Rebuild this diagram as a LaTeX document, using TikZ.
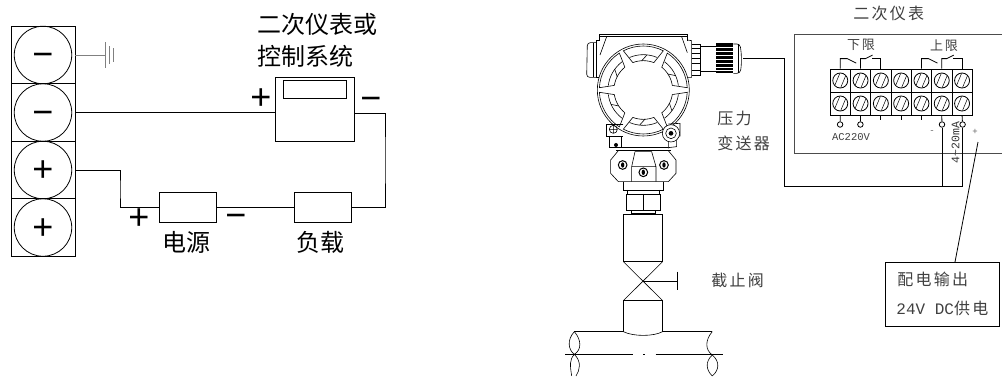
\documentclass[tikz,border=0pt]{standalone}
\usepackage{fontspec}
\usepackage{tikz}
\usetikzlibrary{arrows.meta,positioning}
\newfontfamily\cjkbold{Noto Sans CJK SC}
\newfontfamily\cjkthin[LetterSpace=14]{Noto Sans CJK SC}
\newfontfamily\signfont{Liberation Sans}
\newfontfamily\monofont{Liberation Mono}
\begin{document}
\begin{tikzpicture}[x=1pt,y=-1pt,
    line width=0.8pt,
    slotbox/.style={draw,minimum width=63.5pt,minimum height=57.5pt,inner sep=0pt},
    slotring/.style={draw,circle,minimum size=57.5pt,inner sep=0pt},
    partbox/.style={draw,minimum width=57pt,minimum height=30pt,inner sep=0pt},
    bigsign/.style={inner sep=0pt,font=\signfont\fontsize{36}{36}\selectfont},
    bigtext/.style={inner sep=0pt,anchor=west,font=\cjkbold\fontsize{24}{24}\selectfont},
    thintext/.style={inner sep=0pt,anchor=west,text=black!75,font=\cjkthin\fontsize{16}{16}\selectfont},
    blockcell/.style={draw,minimum width=20.3pt,minimum height=23pt,inner sep=0pt},
    termscrew/.style={draw,circle,minimum size=15pt,inner sep=0pt},
    termpin/.style={draw,circle,minimum size=5.5pt,inner sep=0pt,fill=white}]
\useasboundingbox (0,0) rectangle (1002,376);
% Terminal block
\foreach \n/\y/\s/\d in {1/55/−/5,2/112.5/−/5,3/170/+/1.5,4/227.5/+/1.5} {
    \node[slotbox] (slot\n) at (43.3,\y) {};
    \node[slotring] (ring\n) at (43,\y) {};
    \node[bigsign] (sign\n) at (43,\y+\d) {\s};
}
% Earth
\coordinate (earth) at (105,55);
\draw[gray] (slot1.east) -- (earth);
\draw[gray] (105,42) -- (105,68) (109,46) -- (109,64) (113,48) -- (113,62);
% Left circuit
\node[draw,minimum width=79pt,minimum height=64pt,inner sep=0pt] (meter) at (314.5,109) {};
\node[draw,minimum width=63pt,minimum height=18pt,inner sep=0pt] (screen) at (314.5,89.5) {};
\node[partbox] (source) at (187.5,207) {};
\node[partbox] (load) at (322.5,207) {};
\coordinate (meterin) at (meter.west |- slot2.east);
\coordinate (meterout) at (354,113);
\coordinate (turn1) at (120,190);
\coordinate (turn2) at (385,160);
\draw (slot2.east) -- (meterin);
\draw (slot3.east) -| (turn1) |- (source.west);
\draw (source.east) -- (load.west);
\draw (meterout) -| (turn2) |- (load.east);
\node[bigsign] (mplus) at (261,99.5) {+};
\node[bigsign] (mminus) at (371,104) {−};
\node[bigsign] (splus) at (139,219.5) {+};
\node[bigsign] (sminus) at (236,221) {−};
\node[bigtext] (titlea) at (257,24) {二次仪表或};
\node[bigtext] (titleb) at (257,56) {控制系统};
\node[bigtext] (sourcelab) at (162,242) {电源};
\node[bigtext] (loadlab) at (296,242) {负载};
% Transmitter head, numbers are 3x from (540,20)
\begin{scope}[shift={(540,20)},x=0.3333pt,y=-0.3333pt,line width=0.6pt]
\draw (310,210) circle (138);
\draw (178,62) -- (178,43) -- (442,43) -- (442,62) (178,48) -- (442,48);
\draw (200,50) -- (180,105) (425,50) -- (442,98);
\draw (178,62) -- (168,62) -- (168,172) -- (176,172);
\draw (442,60) -- (455,62) -- (455,172) -- (444,172);
\draw[rounded corners=3pt] (168,68) -- (142,68) -- (140,172) -- (168,172);
\draw (160,68) -- (160,172);
% Cable gland
\draw (455,72) -- (482,72) -- (482,165) -- (455,165);
\foreach \y in {85,100,115,130,150}
    \draw (455,\y) -- (482,\y);
\draw (482,78) -- (528,78) (482,155) -- (528,155);
\fill (528,70) rectangle (580,160);
\foreach \y in {80,92,104,116,128,140,150}
    \draw[white,line width=0.3pt] (528,\y) -- (580,\y);
\draw[rounded corners=3pt] (580,72) -- (600,72) -- (604,100) -- (604,140) -- (600,160) -- (580,160);
\draw (595,72) -- (595,160);
% Window lugs
\foreach \a in {30,90,150,210,270,330} {
    \draw[shift={(310,210)}] plot[domain=\a-27:\a+27,samples=9] (\x:132) -- plot[domain=\a+21:\a-21,samples=9] (\x:88) -- cycle;
    \draw[shift={(310,210)}] plot[domain=\a-23:\a+23,samples=9] (\x:106);
    \draw[shift={(310,210)}] (\a+6:106) -- (\a-3:88);
}
% Brackets
\draw (250,312) -- (200,312) -- (200,348) -- (250,348);
\draw (208,348) -- (208,382) -- (245,382) -- (245,348);
\draw (220,328) circle (12) (208,328) -- (232,328) (220,316) -- (220,340);
\fill (228,375) circle (6);
\draw (385,312) -- (420,310) -- (420,348) -- (410,348);
\draw (385,350) -- (385,385) (410,348) -- (410,380) -- (385,383);
\draw[fill=white] (393,340) circle (26) (393,340) circle (16);
\fill (393,340) circle (7);
% Neck block
\draw (240,382) -- (385,382) (228,390) -- (392,390);
\draw (235,392) -- (385,392) -- (408,420) -- (408,460) -- (385,485) -- (235,485) -- (212,460) -- (212,420) -- cycle;
\draw (285,395) -- (335,395) -- (348,440) -- (348,485) (285,395) -- (275,440) -- (275,485) (275,440) -- (348,440);
\foreach \x/\y in {248/435,372/435,310/457} {
    \draw[line width=1pt] (\x,\y) circle (13);
    \fill (\x,\y) ellipse (5 and 8);
}
\draw (250,485) -- (250,510) -- (370,510) -- (370,485);
% Stem, nut and body
\draw (262,510) -- (262,522) (358,510) -- (358,522);
\draw (258,522) rectangle (362,572) (310,522) -- (310,572);
\draw (275,572) rectangle (345,584) (275,581) -- (345,581);
\draw (250,584) rectangle (368,725);
\draw (250,725) -- (368,842) (368,725) -- (250,842);
\draw[line width=1pt] (250,842) -- (368,842);
\draw (250,842) -- (250,935) (368,842) -- (368,935);
\draw (250,935) .. controls (280,950) and (340,950) .. (368,935);
\draw (310,783) -- (412,783) (412,755) -- (412,810);
% Pipe
\draw (103,935) -- (250,935) (368,935) -- (517,935);
\draw (75,1003) -- (280,1003) (310,1003) -- (316,1003) (347,1003) -- (550,1003);
\draw (103,935) .. controls (80,960) and (85,990) .. (103,1003) .. controls (125,1025) and (120,1050) .. (108,1068);
\draw (103,935) .. controls (125,960) and (125,990) .. (103,1003) .. controls (88,1020) and (90,1035) .. (95,1068);
\draw (517,935) .. controls (495,960) and (495,990) .. (517,1005) .. controls (495,1025) and (498,1050) .. (517,1068);
\draw (517,1005) .. controls (540,1025) and (538,1050) .. (517,1068);
\end{scope}
\node[thintext] (presslab) at (717,118) {压力};
\node[thintext] (sendlab) at (717,143) {变送器};
\node[thintext] (valvelab) at (711,280) {截止阀};
% Instrument
\node[thintext] (instlab) at (853,13) {二次仪表};
\draw[gray!60!black] (1002,34) -- (794,34) -- (794,153) -- (1002,153);
\foreach \i in {1,...,7} {
    \node[blockcell] (up\i) at (819.95+20.3*\i,80.5) {};
    \node[blockcell] (lo\i) at (819.95+20.3*\i,103.5) {};
    \node[termscrew] (upscrew\i) at (up\i) {};
    \node[termscrew] (loscrew\i) at (lo\i) {};
    \draw[shift={(819.95+20.3*\i,80.5)},line width=0.5pt] (-5.5,5) -- (-0.5,-7) (0.5,7) -- (5.5,-5);
    \draw[shift={(819.95+20.3*\i,103.5)},line width=0.5pt] (-5.5,5) -- (-0.5,-7) (0.5,7) -- (5.5,-5);
}
% Relay contacts
\draw (up1.north) -- ++(0,-10) -- ++(7,0) -- ++(9,4.5);
\draw (up2.north) -- ++(0,-10) -- ++(5,0) -- ++(7,-3.5);
\draw (up3.north) -- ++(0,-10) -- ++(-9,0);
\draw (up5.north) -- ++(0,-10) -- ++(7,0) -- ++(9,4.5);
\draw (up6.north) -- ++(0,-10) -- ++(5,0) -- ++(7,-3.5);
\draw (up7.north) -- ++(0,-10) -- ++(-9,0);
\node[thintext,anchor=center,font=\cjkthin\fontsize{13}{13}\selectfont] (lowlab) at (861,45) {下限};
\node[thintext,anchor=center,font=\cjkthin\fontsize{13}{13}\selectfont] (highlab) at (944,46) {上限};
% Pins
\foreach \n/\x in {a/840.1,b/860.4,c/942,d/962.6} {
    \node[termpin] (pin\n) at (\x,124.5) {};
}
\draw (lo1.south) -- (pina) (lo2.south) -- (pinb) (lo6.south) -- (pinc) (lo7.south) -- (pind);
\foreach \i in {3,4,5}
    \draw (lo\i.south) -- ++(0,5);
\node[inner sep=0pt,text=black!75,font=\monofont\fontsize{10.5}{10.5}\selectfont] (aclab) at (851,137) {AC220V};
\node[inner sep=0pt,text=black!60,font=\monofont\fontsize{9}{9}\selectfont] (neglab) at (932,132) {-};
\node[inner sep=0pt,text=black!60,font=\monofont\fontsize{9}{9}\selectfont] (poslab) at (975,132) {+};
\node[inner sep=0pt,rotate=90,text=black!80,font=\monofont\fontsize{11.5}{11.5}\selectfont] (malab) at (955.5,142.5) {4\textasciitilde20mA};
% Outer wiring
\coordinate (glandend) at (743,58.5);
\coordinate (wireturn) at (784.5,120);
\coordinate (junction) at (pinc |- 0,186);
\draw (glandend) -| (wireturn) |- (junction);
\draw (junction) -- (pinc.south);
\draw (junction) -- (pind |- junction) -- (pind.south);
% Supply box
\node[draw,minimum width=114pt,minimum height=64pt,inner sep=0pt] (supply) at (942,294) {};
\node[thintext] (supplya) at (897,279) {配电输出};
\node[thintext] (supplyb) at (896,308) {{\monofont 24V DC}供电};
\coordinate (leadtop) at (978,142);
\coordinate (leadend) at (955,262);
\draw (leadtop) -- (leadend);
\end{tikzpicture}
\end{document}
